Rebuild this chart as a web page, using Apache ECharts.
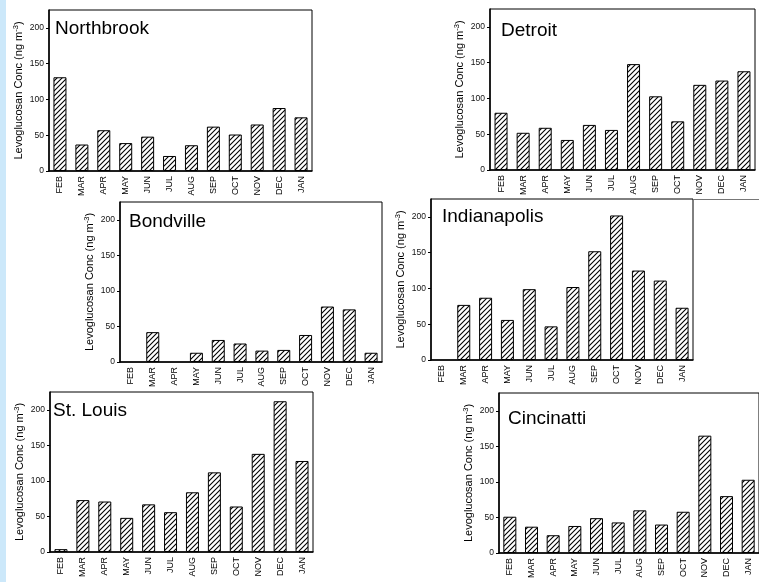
<!DOCTYPE html>
<html>
<head>
<meta charset="utf-8">
<script src="https://cdn.jsdelivr.net/npm/echarts@6/dist/echarts.min.js"></script>
<style>
  html, body { margin: 0; padding: 0; background: #fff; }
  #main { width: 759px; height: 582px; }
</style>
</head>
<body>
<div id="main"></div>
<script>
// months of the sampling year
const months = ['FEB', 'MAR', 'APR', 'MAY', 'JUN', 'JUL', 'AUG', 'SEP', 'OCT', 'NOV', 'DEC', 'JAN'];
const yTicks = [0, 50, 100, 150, 200];
const yMax = 225;

// levoglucosan, ng m-3 ('-' = no sample)
const northbrook = [131, 37, 57, 39, 48, 21, 36, 62, 51, 65, 88, 75];
const detroit = [80, 52, 59, 42, 63, 56, 148, 103, 68, 119, 125, 138];
const bondville = ['-', 42, '-', 13, 31, 26, 16, 17, 38, 78, 74, 13];
const indianapolis = ['-', 77, 87, 56, 99, 47, 102, 152, 202, 125, 111, 73];
const stLouis = [4, 73, 71, 48, 67, 56, 84, 112, 64, 138, 212, 128];
const cincinnati = [51, 37, 25, 38, 49, 43, 60, 40, 58, 165, 80, 103];

const sites = ['Northbrook', 'Detroit', 'Bondville', 'Indianapolis', 'St. Louis', 'Cincinatti'];
const siteValues = [northbrook, detroit, bondville, indianapolis, stLouis, cincinnati];

// panel boxes (px)
const panels = [
  { left: 49, top: 10, width: 263, height: 161, tx: 55, ty: 19 },
  { left: 490, top: 9, width: 265, height: 161, tx: 501, ty: 21 },
  { left: 120, top: 202, width: 262, height: 160, tx: 129, ty: 212 },
  { left: 431, top: 199, width: 262, height: 161, tx: 442, ty: 207 },
  { left: 50, top: 392, width: 263, height: 160, tx: 53, ty: 401 },
  { left: 499, top: 393, width: 264, height: 160, tx: 508, ty: 409 }
];

const FONT = 'Liberation Sans, Arial, sans-serif';

function hatch() {
  const n = 5;
  const c = document.createElement('canvas');
  c.width = n; c.height = n;
  const g = c.getContext('2d');
  g.fillStyle = '#fff';
  g.fillRect(0, 0, n, n);
  g.strokeStyle = '#000';
  g.lineWidth = 1.1;
  g.beginPath();
  g.moveTo(-1, n + 1); g.lineTo(n + 1, -1);
  g.moveTo(-1, 1); g.lineTo(1, -1);
  g.moveTo(n - 1, n + 1); g.lineTo(n + 1, n - 1);
  g.stroke();
  return c;
}
const pattern = { image: hatch(), repeat: 'repeat' };

const myChart = echarts.init(document.getElementById('main'));

const grid = [], xAxis = [], yAxis = [], series = [], title = [];
panels.forEach((p, i) => {
  grid.push({
    left: p.left, top: p.top, width: p.width, height: p.height,
    show: true, borderColor: '#000', borderWidth: 1, backgroundColor: 'transparent'
  });
  title.push({
    text: sites[i], left: p.tx, top: p.ty, padding: 0,
    textStyle: { fontSize: 19, fontWeight: 'normal', color: '#000', fontFamily: FONT }
  });
  xAxis.push({
    type: 'category', gridIndex: i, data: months, boundaryGap: true,
    axisLine: { lineStyle: { color: '#000', width: 1.5 } },
    axisTick: { alignWithLabel: true, length: 3, lineStyle: { color: '#000' } },
    axisLabel: { rotate: 90, interval: 0, fontSize: 9, color: '#000', margin: 5, fontFamily: FONT },
    splitLine: { show: false }
  });
  yAxis.push({
    type: 'value', gridIndex: i, min: 0, max: yMax, interval: 50,
    axisLine: { show: true, lineStyle: { color: '#000', width: 1.5 } },
    axisTick: { show: true, length: 3, customValues: yTicks, lineStyle: { color: '#000' } },
    axisLabel: { customValues: yTicks, fontSize: 8.5, color: '#111', margin: 5, fontFamily: FONT },
    splitLine: { show: false },
    name: '{a|Levoglucosan Conc (ng m}{s|-3}{a|)}',
    nameLocation: 'middle',
    nameGap: 25,
    nameTextStyle: {
      rich: {
        a: { fontSize: 11, color: '#000', fontFamily: FONT, lineHeight: 12, verticalAlign: 'bottom' },
        s: { fontSize: 7.5, color: '#000', fontFamily: FONT, lineHeight: 12, verticalAlign: 'top' }
      }
    }
  });
  series.push({
    type: 'bar', xAxisIndex: i, yAxisIndex: i, data: siteValues[i],
    barWidth: 13, silent: true,
    itemStyle: { color: pattern, borderColor: '#000', borderWidth: 1 }
  });
});

myChart.setOption({
  animation: false,
  backgroundColor: '#fff',
  title: title,
  grid: grid,
  xAxis: xAxis,
  yAxis: yAxis,
  series: series,
  graphic: [
    { type: 'rect', left: 0, top: 0, shape: { width: 6, height: 582 }, style: { fill: '#cce8fa' }, z: 100 },
    { type: 'line', shape: { x1: 693, y1: 199.5, x2: 759, y2: 199.5 }, style: { stroke: '#777', lineWidth: 1 } }
  ]
});
</script>
</body>
</html>
